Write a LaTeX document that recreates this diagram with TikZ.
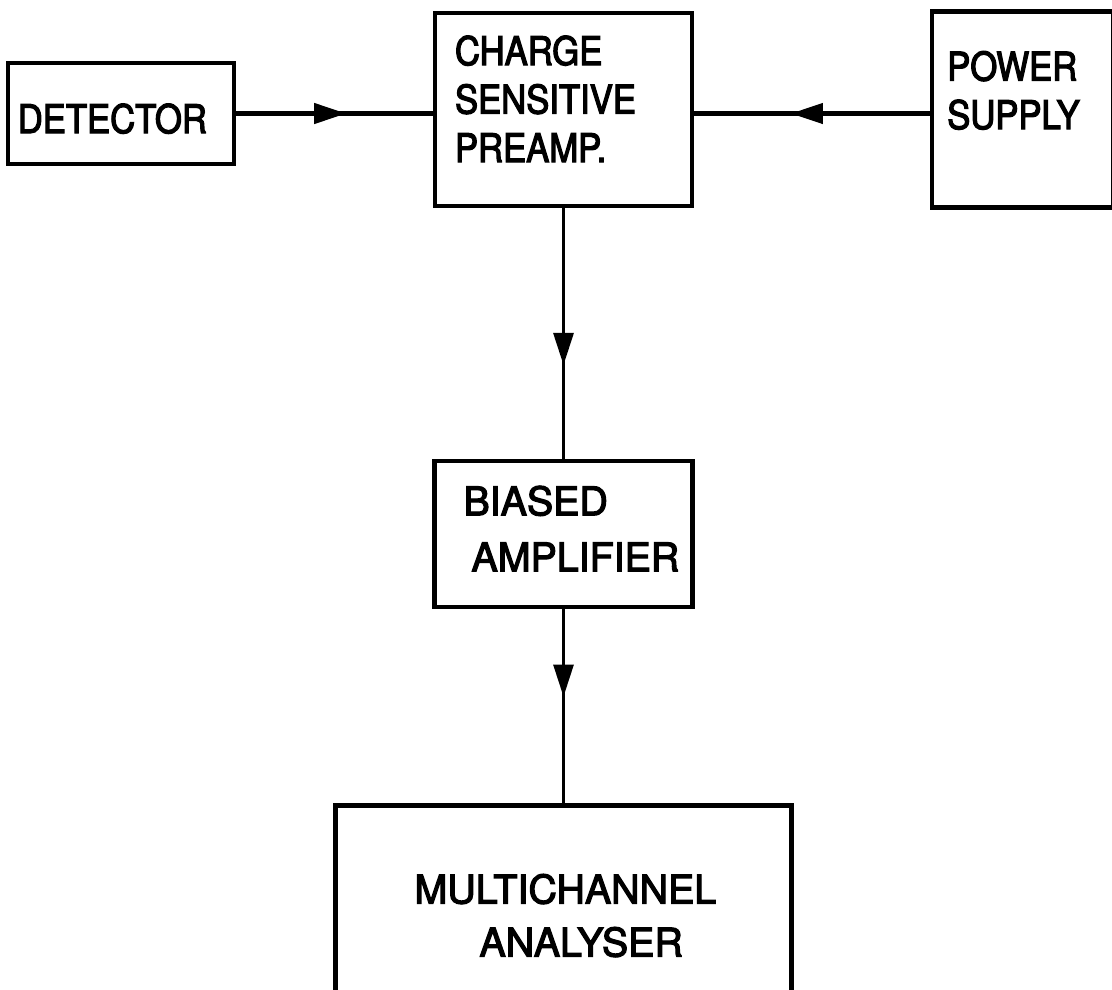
\documentclass[tikz,border=0pt]{standalone}
\usepackage{fontspec}
\setmainfont[FakeBold=3,AutoFakeBold=3]{TeX Gyre Heros}
\newfontfamily\narrowfont[FakeStretch=0.88,FakeBold=3]{TeX Gyre Heros}
\hyphenpenalty=10000
\usetikzlibrary{arrows.meta, decorations.markings, positioning}
\tikzset{block/.style={draw, line width=3pt, inner ysep=0pt, align=left},
         top font/.style={font=\narrowfont\fontsize{28pt}{34.5pt}\selectfont},
         low font/.style={font=\fontsize{28pt}{#1}\selectfont},
         wire/.style={line width=#1}, wire/.default=3pt,
         midarrow/.style={postaction={decorate},
           decoration={markings, mark=at position #1 with {\arrow{Triangle[length=0.8cm, width=0.5cm]}}}},}

\begin{document}
\begin{tikzpicture}
       \useasboundingbox (0,0) rectangle (27.8,-24.725);

       % top row
       \node[block, top font, inner xsep=0.5cm, text width=5.425cm,
             text height=1.3cm, text depth=3.525cm] (2) at (14.0875,-2.7375)
             {CHARGE\\SENSITIVE\\PREAMP.};
       \node[block, top font, inner xsep=0.25cm, text width=5.15cm,
             text height=1.75cm, text depth=0.775cm, yshift=-0.1cm] (1) [left = 4.925cm of 2]
             {DETECTOR};
       \node[block, top font, inner xsep=0.375cm, text width=3.775cm,
             text height=1.725cm, text depth=3.175cm] (3) [right = 5.9cm of 2]
             {POWER\\SUPPLY};

       % chain below the preamp
       \node[block, low font=39.8pt, inner xsep=0.725cm, text width=5cm,
             text height=1.35cm, text depth=2.3cm] (4) [below = 6.275cm of 2]
             {BIASED\\\hspace*{0.2cm}AMPLIFIER};
       \node[block, low font=37.7pt, inner xsep=1.975cm, text width=7.45cm,
             text height=2.45cm, text depth=2.3cm] (5) [below = 4.85cm of 4]
             {MULTICHANNEL\\\hspace*{1.625cm}ANALYSER};

       \draw[wire, midarrow=0.56] (1.east) -- (1.east -| 2.west);
       \draw[wire, midarrow=0.59] (3.west |- 1.east) -- (1.east -| 2.east);
       \draw[wire=2pt, midarrow=0.625] (2) -- (4);
       \draw[wire=2pt, midarrow=0.45] (4) -- (5);
\end{tikzpicture}
\end{document}
